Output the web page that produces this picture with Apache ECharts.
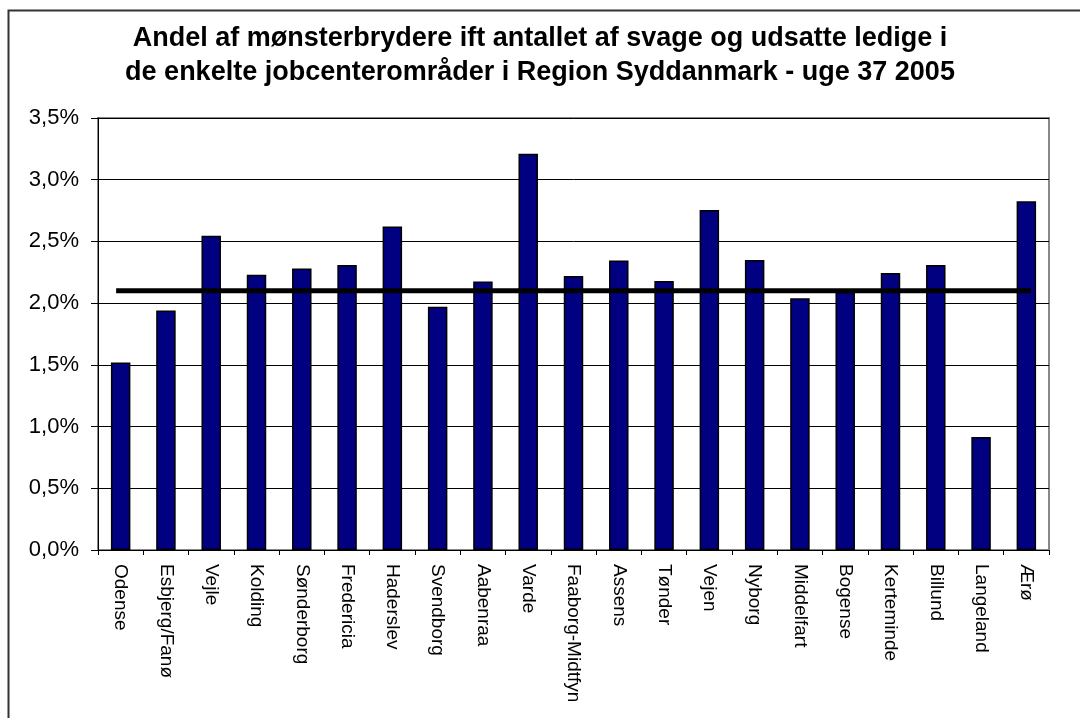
<!DOCTYPE html>
<html>
<head>
<meta charset="utf-8">
<script src="https://cdn.jsdelivr.net/npm/echarts@6/dist/echarts.min.js"></script>
<style>
html,body{margin:0;padding:0;background:#fff;}
#chart{width:1080px;height:718px;}
</style>
</head>
<body>
<div id="chart"></div>
<script>
const categories = ["Odense","Esbjerg/Fanø","Vejle","Kolding","Sønderborg","Fredericia","Haderslev","Svendborg","Aabenraa","Varde","Faaborg-Midtfyn","Assens","Tønder","Vejen","Nyborg","Middelfart","Bogense","Kerteminde","Billund","Langeland","Ærø"];
const shareValues = [1.52,1.94,2.545,2.23,2.28,2.31,2.62,1.97,2.175,3.21,2.22,2.345,2.18,2.755,2.35,2.04,2.09,2.245,2.31,0.915,2.825];
const averageValue = 2.1;
const averageSpan = [-0.1, 20.1];
const yTicks = {min:0, max:3.5, interval:0.5};
const titleText = "Andel af mønsterbrydere ift antallet af svage og udsatte ledige i\nde enkelte jobcenterområder i Region Syddanmark - uge 37 2005";

const chart = echarts.init(document.getElementById('chart'), null, {renderer:'canvas'});
const font = 'Liberation Sans, Arial, sans-serif';
chart.setOption({
  animation:false,
  backgroundColor:'#fff',
  title:{
    text:titleText, left:'center', top:17,
    textStyle:{fontFamily:font, fontWeight:'bold', fontSize:27, color:'#000', lineHeight:34}
  },
  graphic:[{
    type:'rect', shape:{x:8.5,y:10.5,width:1200,height:900},
    style:{fill:'none', stroke:'#333', lineWidth:2}, z:-10
  }],
  grid:{left:98, right:31, top:118, bottom:168, show:true, borderColor:'#888', borderWidth:2, backgroundColor:'transparent'},
  xAxis:[{
    type:'category', data:categories,
    axisLine:{lineStyle:{color:'#000', width:1}},
    axisTick:{show:true, length:5, lineStyle:{color:'#000'}},
    axisLabel:{rotate:-90, interval:0, fontFamily:font, fontSize:19, color:'#000', margin:14, align:'left', verticalAlign:'middle'}
  },{
    type:'value', min:-0.5, max:categories.length-0.5, show:false
  }],
  yAxis:{
    type:'value', min:yTicks.min, max:yTicks.max, interval:yTicks.interval,
    axisLine:{show:true, onZero:false, lineStyle:{color:'#000', width:1}},
    axisTick:{show:true, length:7, lineStyle:{color:'#000'}},
    axisLabel:{fontFamily:font, fontSize:22, color:'#000', margin:19,
      formatter:v=>v.toFixed(1).replace('.',',')+'%'},
    splitLine:{show:true, lineStyle:{color:'#000', width:1}}
  },
  series:[{
    type:'bar', data:shareValues, barWidth:'43%',
    itemStyle:{color:'#000080', borderColor:'#000', borderWidth:1.5}
  },{
    type:'line', xAxisIndex:1, symbol:'none',
    data:[[averageSpan[0],averageValue],[averageSpan[1],averageValue]],
    lineStyle:{color:'#000', width:5}, z:5
  }]
});
</script>
</body>
</html>
